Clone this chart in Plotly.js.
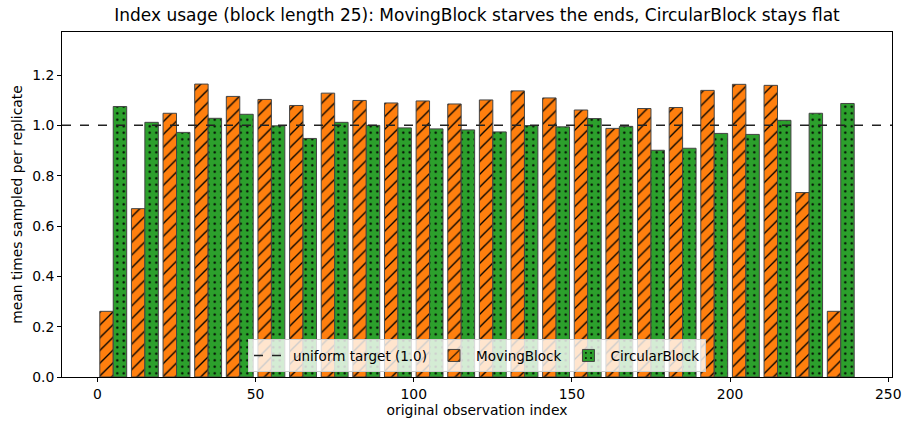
<!DOCTYPE html>
<html>
<head>
<meta charset="utf-8">
<script src="https://cdn.plot.ly/plotly-3.0.1.min.js"></script>
<style>html,body{margin:0;padding:0;background:#fff;}#chart{width:911px;height:431px;}</style>
</head>
<body>
<div id="chart"></div>
<script>
// bin centres of original observation index (bins of 10)
const binCenters = [5, 15, 25, 35, 45, 55, 65, 75, 85, 95, 105, 115, 125, 135, 145, 155, 165, 175, 185, 195, 205, 215, 225, 235];
const movingBlock = [0.261, 0.669, 1.048, 1.164, 1.115, 1.103, 1.079, 1.128, 1.099, 1.089, 1.097, 1.085, 1.101, 1.137, 1.109, 1.061, 0.988, 1.067, 1.071, 1.139, 1.163, 1.159, 0.733, 0.261];
const circularBlock = [1.075, 1.012, 0.972, 1.028, 1.044, 0.998, 0.948, 1.012, 1.000, 0.990, 0.986, 0.982, 0.974, 0.999, 0.994, 1.027, 0.996, 0.901, 0.909, 0.968, 0.964, 1.020, 1.048, 1.087];
const uniformTarget = 1.0;
const xTicks = [0, 50, 100, 150, 200, 250];
const yTicks = [0.0, 0.2, 0.4, 0.6, 0.8, 1.0, 1.2];

const FONT = 'DejaVu Sans, sans-serif';
const FS = 13.9;

const traces = [
  {
    type: 'bar', name: 'MovingBlock', x: binCenters, y: movingBlock,
    marker: {color: '#ff7f0e', line: {color: '#444444', width: 1},
      pattern: {shape: '/', fgcolor: '#000000', bgcolor: '#ff7f0e', size: 9, solidity: 0.15}},
    legendrank: 2
  },
  {
    type: 'bar', name: 'CircularBlock', x: binCenters, y: circularBlock,
    marker: {color: '#2ca02c', line: {color: '#444444', width: 1},
      pattern: {shape: '.', fgcolor: '#000000', bgcolor: '#2ca02c', size: 6.5, solidity: 0.1}},
    legendrank: 3
  }
];

const layout = {
  width: 911, height: 431,
  margin: {l: 62, r: 18.5, t: 31.7, b: 53.7},
  paper_bgcolor: '#ffffff', plot_bgcolor: '#ffffff',
  font: {family: FONT, size: FS, color: '#000'},
  barmode: 'group', bargap: 0.15, bargroupgap: 0,
  title: {text: 'Index usage (block length 25): MovingBlock starves the ends, CircularBlock stays flat',
    font: {family: FONT, size: 17, color: '#000'}, x: 0.5, xref: 'paper', xanchor: 'center', y: 0.965, yanchor: 'middle'},
  xaxis: {
    range: [-11.2, 251.2], tickvals: xTicks, ticktext: xTicks.map(String),
    showline: true, mirror: true, linecolor: '#000', linewidth: 1,
    ticks: 'outside', ticklen: 4, tickcolor: '#000', showgrid: false, zeroline: false,
    tickfont: {family: FONT, size: FS},
    title: {text: 'original observation index', font: {family: FONT, size: FS}, standoff: 4}
  },
  yaxis: {
    range: [0, 1.371], tickvals: yTicks, ticktext: yTicks.map(v => v.toFixed(1)),
    showline: true, mirror: true, linecolor: '#000', linewidth: 1,
    ticks: 'outside', ticklen: 4, tickcolor: '#000', showgrid: false, zeroline: false,
    tickfont: {family: FONT, size: FS},
    title: {text: 'mean times sampled per replicate', font: {family: FONT, size: FS}, standoff: 6}
  },
  shapes: [{
    type: 'line', xref: 'paper', x0: 0, x1: 1, yref: 'y', y0: uniformTarget, y1: uniformTarget,
    line: {color: '#222222', width: 1.5, dash: 'dash'},
    showlegend: true, name: 'uniform target (1.0)', legendrank: 1, layer: 'above'
  }],
  legend: {
    orientation: 'h', x: 0.5, xanchor: 'center', y: 0.014, yanchor: 'bottom',
    bgcolor: 'rgba(255,255,255,0.8)', bordercolor: '#cccccc', borderwidth: 1,
    font: {family: FONT, size: 13.5}, traceorder: 'normal', itemwidth: 34, tracegroupgap: 0
  },
  showlegend: true
};

Plotly.newPlot('chart', traces, layout, {displayModeBar: false, staticPlot: true});
</script>
</body>
</html>
